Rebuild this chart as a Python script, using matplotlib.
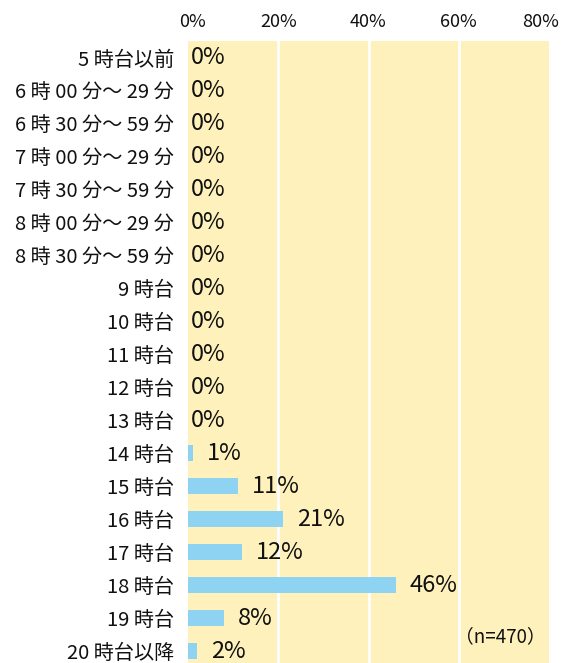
import matplotlib
matplotlib.use('Agg')
import matplotlib.pyplot as plt
from matplotlib.transforms import ScaledTranslation

plt.rcParams['font.family'] = ['Noto Sans CJK JP', 'DejaVu Sans']

# 帰宅時間帯の分布 (n=470)
categories = [
    "5 時台以前",
    "6 時 00 分～ 29 分",
    "6 時 30 分～ 59 分",
    "7 時 00 分～ 29 分",
    "7 時 30 分～ 59 分",
    "8 時 00 分～ 29 分",
    "8 時 30 分～ 59 分",
    "9 時台",
    "10 時台",
    "11 時台",
    "12 時台",
    "13 時台",
    "14 時台",
    "15 時台",
    "16 時台",
    "17 時台",
    "18 時台",
    "19 時台",
    "20 時台以降",
]
values = [0, 0, 0, 0, 0, 0, 0, 0, 0, 0, 0, 0, 1, 11, 21, 12, 46, 8, 2]
x_ticks = [0, 20, 40, 60, 80]
sample_note = "（n=470）"

W, H = 563, 663
fig = plt.figure(figsize=(W / 100, H / 100), dpi=100)
# axes runs past the bottom edge so the last row is clipped
ax = fig.add_axes([188 / W, -4.5 / H, 361 / W, 626.5 / H])
ax.set_facecolor('#FEF1BB')

y = list(range(len(categories)))
ax.barh(y, values, height=0.5, color='#8ED3F1', zorder=3)

for v in x_ticks[1:-1]:
    ax.axvline(v, color='white', lw=2, zorder=2)

for yi, v in zip(y, values):
    off = 2 if v == 0 else 10
    ax.annotate(f"{v}%", (v, yi), xytext=(off, 0), textcoords='offset points',
                ha='left', va='center', fontsize=17, color='#111111', zorder=4)

ax.set_xlim(0, 80)
ax.set_ylim(len(categories) - 0.5, -0.5)
ax.set_yticks(y)
ax.set_yticklabels(categories, fontsize=14.5, color='#111111')
ax.set_xticks(x_ticks)
ax.set_xticklabels([f"{t}%" for t in x_ticks], fontsize=13, color='#111111')
ax.xaxis.tick_top()
ax.tick_params(length=0, pad=7)
ax.tick_params(axis='y', pad=10)
for s in ax.spines.values():
    s.set_visible(False)

# keep the end labels inside the figure
labels = ax.get_xticklabels()
labels[0].set_transform(labels[0].get_transform() + ScaledTranslation(4 / 100, 0, fig.dpi_scale_trans))
labels[-1].set_transform(labels[-1].get_transform() + ScaledTranslation(-8 / 100, 0, fig.dpi_scale_trans))

ax.text(0.99, 0.049, sample_note, transform=ax.transAxes, ha='right', va='center',
        fontsize=13.5, color='#111111', zorder=4)

fig.savefig('out.png', dpi=100)
